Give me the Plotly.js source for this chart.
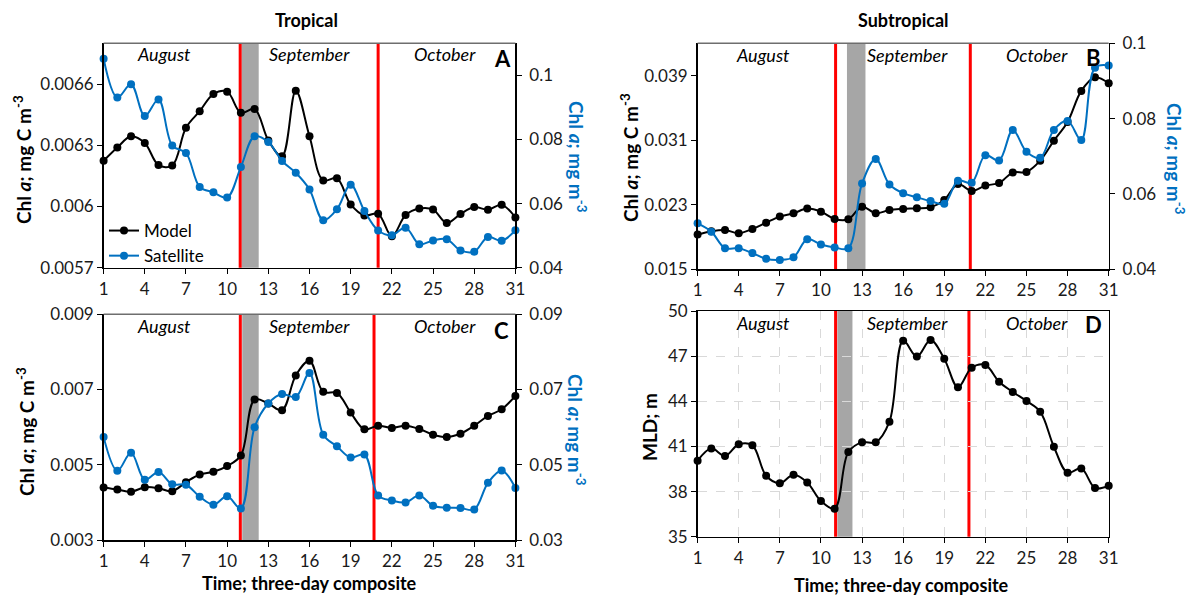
<!DOCTYPE html>
<html><head><meta charset="utf-8">
<script src="https://cdn.plot.ly/plotly-3.0.1.min.js"></script>
<style>html,body{margin:0;padding:0;background:#fff}#chart{width:1193px;height:595px}</style>
</head><body><div id="chart"></div>
<script>
// ---------------- DATA ----------------
const days = [1,2,3,4,5,6,7,8,9,10,11,12,13,14,15,16,17,18,19,20,21,22,23,24,25,26,27,28,29,30,31];

const tropModelA = [0.006224,0.006289,0.006344,0.006311,0.006203,0.006201,0.006386,0.006467,0.006551,0.006563,0.006459,0.006478,0.006324,0.006246,0.006568,0.006344,0.006128,0.006138,0.006010,0.005956,0.005964,0.005854,0.005958,0.005990,0.005985,0.005919,0.005963,0.005997,0.005984,0.006008,0.005946];
const tropSatA = [0.1052,0.0931,0.0972,0.0873,0.0925,0.0781,0.0758,0.0652,0.0635,0.0619,0.0714,0.0810,0.0792,0.0733,0.0696,0.0644,0.0548,0.0582,0.0659,0.0577,0.0516,0.0501,0.0525,0.0473,0.0485,0.0489,0.0454,0.0450,0.0496,0.0484,0.0517];

const subModelB = [0.01930,0.01971,0.01987,0.01946,0.02000,0.02078,0.02153,0.02194,0.02252,0.02214,0.02124,0.02120,0.02276,0.02194,0.02235,0.02248,0.02256,0.02268,0.02359,0.02557,0.02471,0.02537,0.02570,0.02698,0.02706,0.02846,0.03094,0.03325,0.03710,0.03879,0.03805];
const subSatB = [0.0522,0.0500,0.0456,0.0456,0.0443,0.0428,0.0425,0.0432,0.0480,0.0466,0.0458,0.0456,0.0628,0.0693,0.0625,0.0602,0.0591,0.0581,0.0574,0.0635,0.0630,0.0703,0.0689,0.0770,0.0712,0.0696,0.0770,0.0794,0.0743,0.0935,0.0941];

const tropModelC = [0.004396,0.004342,0.004280,0.004404,0.004378,0.004298,0.004538,0.004742,0.004813,0.004964,0.005249,0.006733,0.006627,0.006449,0.007373,0.007764,0.006938,0.006911,0.006387,0.005942,0.006040,0.005978,0.006040,0.005951,0.005800,0.005738,0.005827,0.006040,0.006298,0.006476,0.006831];
const tropSatC = [0.0574,0.0484,0.0532,0.0460,0.0481,0.0448,0.0447,0.0415,0.0394,0.0416,0.0384,0.0600,0.0663,0.0688,0.0680,0.0744,0.0580,0.0549,0.0519,0.0527,0.0418,0.0405,0.0400,0.0418,0.0391,0.0386,0.0385,0.0381,0.0452,0.0485,0.0438];

const subMldD = [40.05,40.87,40.36,41.14,41.07,39.05,38.55,39.12,38.61,37.37,36.86,40.63,41.27,41.27,42.64,48.03,46.97,48.07,46.83,44.93,46.23,46.41,45.30,44.62,44.02,43.31,40.98,39.25,39.54,38.24,38.39];

const xTickVals = [1,4,7,10,13,16,19,22,25,28,31];
const yTickA = [0.0057,0.006,0.0063,0.0066];
const yTickTextA = ['0.0057','0.006','0.0063','0.0066'];
const y2TickA = [0.04,0.06,0.08,0.1];
const y2TickTextA = ['0.04','0.06','0.08','0.1'];
const yTickB = [0.015,0.023,0.031,0.039];
const yTickTextB = ['0.015','0.023','0.031','0.039'];
const y2TickB = [0.04,0.06,0.08,0.1];
const y2TickTextB = ['0.04','0.06','0.08','0.1'];
const yTickC = [0.003,0.005,0.007,0.009];
const yTickTextC = ['0.003','0.005','0.007','0.009'];
const y2TickC = [0.03,0.05,0.07,0.09];
const y2TickTextC = ['0.03','0.05','0.07','0.09'];
const yTickD = [35,38,41,44,47,50];

const months = ['August','September','October'];
const panelLetters = ['A','B','C','D'];

// event markers (composite index)
const redA = [10.95, 21.0], grayA = [11.05, 12.3];
const redB = [11.07, 20.9], grayB = [11.9, 13.25];
const redC = [10.96, 20.7], grayC = [11.1, 12.3];
const redD = [11.07, 20.8], grayD = [11.2, 12.3];

// ---------------- STYLE ----------------
const FONT = 'Lato, "Open Sans", "DejaVu Sans", sans-serif';
const BLUE = '#0070C0';
const W = 1193, H = 595;
const px = v => v / W;
const py = v => 1 - v / H;

function tr(y, color, xa, ya, name, showlegend) {
  return {x: days, y: y, type: 'scatter', mode: 'lines+markers', name: name, showlegend: showlegend,
    xaxis: xa, yaxis: ya, cliponaxis: false,
    line: {color: color, width: 2, shape: 'spline', smoothing: 1},
    marker: {color: color, size: 8}};
}

const data = [
  tr(tropModelA, '#000', 'x', 'y', 'Model', true),
  tr(tropSatA, BLUE, 'x', 'y2', 'Satellite', true),
  tr(subModelB, '#000', 'x2', 'y3', 'Model', false),
  tr(subSatB, BLUE, 'x2', 'y4', 'Satellite', false),
  tr(tropModelC, '#000', 'x3', 'y5', 'Model', false),
  tr(tropSatC, BLUE, 'x3', 'y6', 'Satellite', false),
  tr(subMldD, '#000', 'x4', 'y7', 'MLD', false)
];

const tickFont = {family: FONT, size: 17, color: '#1a1a1a'};

function xAx(domain, anchor, extra) {
  return Object.assign({domain: domain, anchor: anchor, range: [1, 31], tickvals: xTickVals,
    ticks: 'outside', ticklen: 5, tickcolor: '#000', showline: true, linecolor: '#000', linewidth: 1.5,
    showgrid: false, zeroline: false, tickfont: tickFont, fixedrange: true}, extra || {});
}
function yAx(domain, anchor, range, tv, tt, extra) {
  return Object.assign({domain: domain, anchor: anchor, range: range, tickvals: tv, ticktext: tt,
    ticks: 'outside', ticklen: 5, tickcolor: '#000', showline: true, linecolor: '#000', linewidth: 1.5,
    showgrid: false, zeroline: false, tickfont: tickFont, fixedrange: true}, extra || {});
}
function yRight(over, anchor, range, tv, tt) {
  return {overlaying: over, side: 'right', anchor: anchor, range: range, tickvals: tv, ticktext: tt,
    ticks: 'outside', ticklen: 5, tickcolor: '#000', showline: true, linecolor: '#000', linewidth: 1.5,
    showgrid: false, zeroline: false, tickfont: tickFont, ticklabelstandoff: 4, fixedrange: true};
}

const xdL = [px(103.6), px(515.4)];
const xdR = [px(697.6), px(1108.7)];

const layout = {
  width: W, height: H, margin: {l: 0, r: 0, t: 0, b: 0},
  paper_bgcolor: '#fff', plot_bgcolor: 'rgba(0,0,0,0)',
  font: {family: FONT, color: '#000'},
  showlegend: true,
  legend: {x: px(104), y: py(213), xanchor: 'left', yanchor: 'top', bgcolor: 'rgba(0,0,0,0)',
    font: {family: FONT, size: 17, color: '#000'}, itemwidth: 30, tracegroupgap: 0},
  xaxis: xAx(xdL, 'y'),
  yaxis: yAx([py(267.7), py(43.3)], 'x', [0.0057, 0.0068], yTickA, yTickTextA),
  yaxis2: yRight('y', 'x', [0.04, 0.11], y2TickA, y2TickTextA),
  xaxis2: xAx(xdR, 'y3'),
  yaxis3: yAx([py(269.3), py(43.3)], 'x2', [0.015, 0.043], yTickB, yTickTextB),
  yaxis4: yRight('y3', 'x2', [0.04, 0.1], y2TickB, y2TickTextB),
  xaxis3: xAx(xdL, 'y5'),
  yaxis5: yAx([py(540), py(314.3)], 'x3', [0.003, 0.009], yTickC, yTickTextC),
  yaxis6: yRight('y5', 'x3', [0.03, 0.09], y2TickC, y2TickTextC),
  xaxis4: xAx(xdR, 'y7', {showgrid: true, gridcolor: '#d9d9d9', griddash: 'dash', gridwidth: 1, mirror: true}),
  yaxis7: yAx([py(536.7), py(311)], 'x4', [35, 50], yTickD, yTickD.map(String),
    {showgrid: true, gridcolor: '#d9d9d9', griddash: 'dash', gridwidth: 1, mirror: true}),
  shapes: [],
  annotations: []
};

// event shapes
function events(xa, ya, red, gray, topBorder) {
  layout.shapes.push({type: 'rect', xref: xa, yref: ya + ' domain', x0: gray[0], x1: gray[1], y0: 0, y1: 1,
    fillcolor: '#A6A6A6', line: {width: 0}, layer: 'below'});
  red.forEach(r => layout.shapes.push({type: 'line', xref: xa, yref: ya + ' domain', x0: r, x1: r, y0: 0, y1: 1,
    line: {color: '#FF0000', width: 3}, layer: 'below'}));
  if (topBorder) layout.shapes.push({type: 'line', xref: xa + ' domain', yref: ya + ' domain', x0: 0, x1: 1, y0: 1, y1: 1,
    line: {color: '#6e6e6e', width: 1.5}});
}
events('x', 'y', redA, grayA, true);
events('x2', 'y3', redB, grayB, true);
events('x3', 'y5', redC, grayC, true);
events('x4', 'y7', redD, grayD, false);

function ann(x, y, text, opts) {
  layout.annotations.push(Object.assign({xref: 'paper', yref: 'paper', x: px(x), y: py(y), text: text,
    showarrow: false, xanchor: 'center', yanchor: 'middle', font: {family: FONT, size: 17, color: '#000'}}, opts || {}));
}

// panel titles
ann(306, 20, '<b>Tropical</b>', {font: {family: FONT, size: 18, color: '#000'}});
ann(903, 20, '<b>Subtropical</b>', {font: {family: FONT, size: 18, color: '#000'}});

// month labels + letters
const monthPos = [
  {xs: [164, 309, 445], y: 54, lx: 502, ly: 59},
  {xs: [762.6, 907, 1037], y: 55, lx: 1093.6, ly: 58},
  {xs: [164, 309, 445], y: 326, lx: 501, ly: 330},
  {xs: [762.6, 907, 1037], y: 323, lx: 1093, ly: 325}
];
monthPos.forEach((p, i) => {
  months.forEach((m, j) => ann(p.xs[j], p.y, '<i>' + m + '</i>', {font: {family: FONT, size: 18, color: '#000'}}));
  ann(p.lx, p.ly, '<b>' + panelLetters[i] + '</b>', {font: {family: FONT, size: 22, color: '#000'}});
});

// axis titles
const leftT = '<b>Chl <i>a</i>; mg C m<sup>-3</sup></b>';
const rightT = '<b>Chl <i>a</i>; mg m<sup>-3</sup></b>';
const tf = {family: FONT, size: 19, color: '#000'};
const tfb = {family: FONT, size: 19, color: BLUE};
ann(23, 160, leftT, {textangle: -90, font: tf});
ann(630, 157, leftT, {textangle: -90, font: tf});
ann(25, 432, leftT, {textangle: -90, font: tf});
ann(649, 427, '<b>MLD; m</b>', {textangle: -90, font: tf});
ann(577, 157, rightT, {textangle: 90, font: tfb});
ann(1175, 159, rightT, {textangle: 90, font: tfb});
ann(577, 430, rightT, {textangle: 90, font: tfb});
ann(309, 583, '<b>Time; three-day composite</b>', {font: {family: FONT, size: 18, color: '#000'}});
ann(901, 585, '<b>Time; three-day composite</b>', {font: {family: FONT, size: 18, color: '#000'}});

Plotly.newPlot('chart', data, layout, {displayModeBar: false, staticPlot: true});
</script>
</body></html>
